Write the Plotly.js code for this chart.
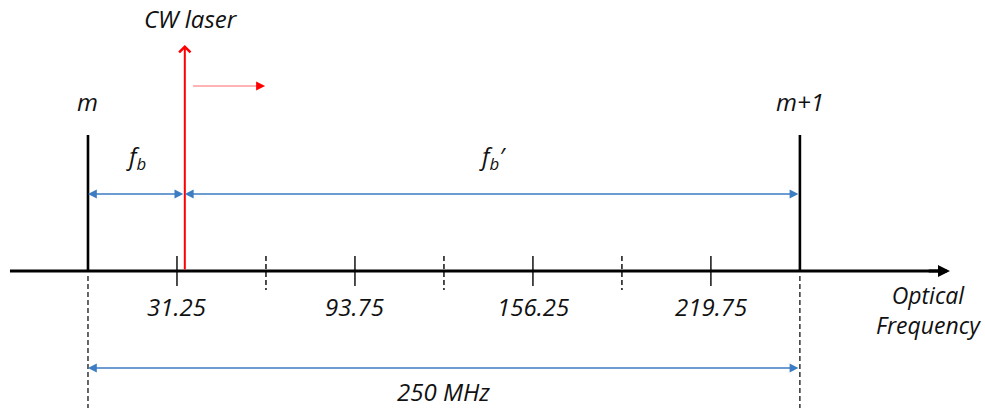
<!DOCTYPE html>
<html><head><meta charset="utf-8">
<script src="https://cdn.plot.ly/plotly-3.0.1.min.js"></script>
<style>html,body{margin:0;padding:0;background:#fff}</style>
</head><body><div id="chart" style="width:985px;height:408px"></div>
<script>
// ---- data (MHz) ----
const combFreqs = [0, 250];
const combLabels = ['m', 'm+1'];
const laserFreq = 34;
const laserLabel = 'CW laser';
const tickFreqs = [31.25, 93.75, 156.25, 218.75];
const tickLabels = ['31.25', '93.75', '156.25', '219.75'];
const dashedFreqs = [62.5, 125, 187.5];
const spanLabel = '250 MHz';
const beatLabels = ['<i>f</i><sub><i>b</i></sub>', '<i>f</i><sub><i>b</i></sub><i>\u2032</i>'];
const axisLabel = 'Optical<br>Frequency';
const axisStart = -27.4, axisEnd = 302.7;
const shiftArrow = [36.9, 62.2];

// ---- layout positions (vertical, px) ----
const Y = {axis:271, combTop:135, laserTop:45, beat:194, span:368, tickTop:256, tickBot:286,
  dashBot:290, tickLbl:306, combLbl:101, laserLbl:18, beatLbl:157, spanLbl:391, guideTop:276, shift:86};

const BLACK = '#000', RED = '#ff0000', BLUE = '#3c7cc2';
const FONT = {family:'Open Sans, Noto Sans, sans-serif', size:24, color:'#111', style:'italic'};

const traces = [];
function seg(xs, y0, y1, color, width, dash) {
  const x = [], y = [];
  xs.forEach(v => { x.push(v, v, null); y.push(y0, y1, null); });
  traces.push({type:'scatter', mode:'lines', x, y, line:{color, width, dash:dash||'solid'}, hoverinfo:'skip'});
}
// axis line
traces.push({type:'scatter', mode:'lines', x:[axisStart, axisEnd-3], y:[Y.axis, Y.axis], line:{color:BLACK, width:3.2}, hoverinfo:'skip'});
// comb lines
seg(combFreqs, Y.combTop, Y.axis, BLACK, 2.6);
// ticks
seg(tickFreqs, Y.tickTop, Y.tickBot, BLACK, 1.4);
seg(dashedFreqs, Y.tickTop, Y.dashBot, BLACK, 1.4, '5px,3px');
// guides
seg(combFreqs, Y.guideTop, 408, BLACK, 1.2, '5px,3px');
// pink shift line
traces.push({type:'scatter', mode:'lines', x:[shiftArrow[0], shiftArrow[1]-2], y:[Y.shift, Y.shift], line:{color:'#ff9a9a', width:1.5}, hoverinfo:'skip'});

const ann = [];
function arrow(x, y, ax, ay, color, width, head, size, side) {
  ann.push({x, y, ax, ay, xref:'x', yref:'y', axref:'x', ayref:'y', text:'', showarrow:true,
    arrowcolor:color, arrowwidth:width, arrowhead:head, arrowsize:size, arrowside:side||'end',
    startarrowhead:head, startarrowsize:size});
}
arrow(axisEnd, Y.axis, axisEnd-8, Y.axis, BLACK, 3, 2, 0.8);
arrow(laserFreq, Y.laserTop, laserFreq, Y.axis, RED, 2, 4, 1.1);
arrow(shiftArrow[1], Y.shift, shiftArrow[1]-3, Y.shift, RED, 1.5, 2, 1.2);
arrow(0, Y.beat, laserFreq, Y.beat, BLUE, 1.6, 2, 1.1, 'end+start');
arrow(laserFreq, Y.beat, combFreqs[1], Y.beat, BLUE, 1.6, 2, 1.1, 'end+start');
arrow(combFreqs[0], Y.span, combFreqs[1], Y.span, BLUE, 1.6, 2, 1.1, 'end+start');

function label(x, y, text, extra) {
  ann.push(Object.assign({x, y, xref:'x', yref:'y', text, showarrow:false, font:Object.assign({}, FONT),
    xanchor:'center', yanchor:'middle'}, extra||{}));
}
combFreqs.forEach((f, i) => label(f, Y.combLbl, combLabels[i]));
label(laserFreq + 2, Y.laserLbl, laserLabel);
label(laserFreq / 2, Y.beatLbl, beatLabels[0]);
label((laserFreq + combFreqs[1]) / 2, Y.beatLbl, beatLabels[1]);
tickFreqs.forEach((f, i) => label(f, Y.tickLbl, tickLabels[i]));
label((combFreqs[0] + combFreqs[1]) / 2, Y.spanLbl, spanLabel);
label(295, 310, axisLabel, {font:Object.assign({}, FONT, {size:23})});

const layout = {
  width:985, height:408, margin:{l:0, r:0, t:0, b:0},
  paper_bgcolor:'#fff', plot_bgcolor:'#fff', showlegend:false,
  xaxis:{range:[-30.9, 315.0], visible:false, fixedrange:true},
  yaxis:{range:[408, 0], visible:false, fixedrange:true},
  annotations:ann
};
Plotly.newPlot('chart', traces, layout, {displayModeBar:false, staticPlot:true});
</script></body></html>
